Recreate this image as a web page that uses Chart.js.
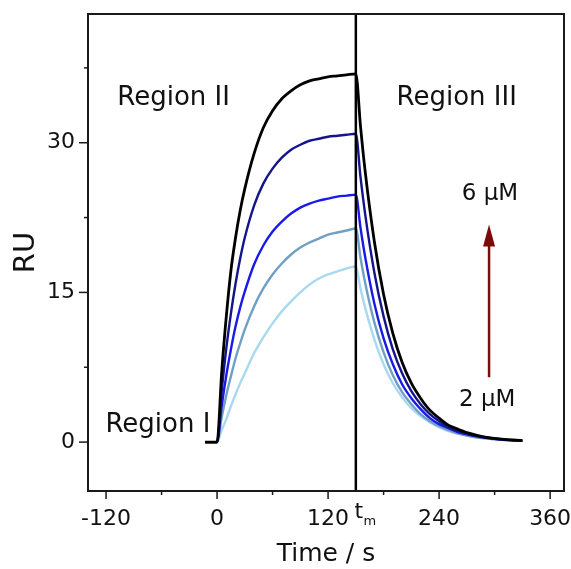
<!DOCTYPE html>
<html>
<head>
<meta charset="utf-8">
<script src="https://cdn.jsdelivr.net/npm/chart.js@4"></script>
<style>
    html, body { margin: 0; padding: 0; background: #fff; }
    #chartCanvas { display: block; }
</style>
</head>
<body>
<canvas id="chartCanvas" width="571" height="569"></canvas>
<script>
const times = [-13, -5, 0, 5, 10, 15, 20, 25, 30, 40, 50, 60, 70, 80, 90, 100, 110, 120, 130, 140, 150,
    155, 160, 170, 180, 190, 200, 210, 220, 230, 240, 250, 260, 270, 280, 290, 300, 310, 320, 330];

const ru6uM = [0, 0, 0, 7.0, 12.6, 17.2, 20.5, 23.2, 25.4, 28.9, 31.5, 33.2, 34.4, 35.2, 35.8, 36.2, 36.4, 36.6, 36.7, 36.8, 36.9,
    31.7, 27.2, 20.1, 14.8, 10.9, 8.0, 5.9, 4.4, 3.2, 2.4, 1.7, 1.3, 0.95, 0.7, 0.5, 0.38, 0.28, 0.21, 0.15];
const ru5uM = [0, 0, 0, 5.1, 9.4, 12.9, 15.9, 18.4, 20.5, 23.7, 25.9, 27.4, 28.5, 29.3, 29.8, 30.2, 30.4, 30.6, 30.7, 30.8, 30.9,
    26.6, 22.9, 17.0, 12.6, 9.3, 6.9, 5.1, 3.8, 2.8, 2.1, 1.5, 1.1, 0.84, 0.62, 0.46, 0.34, 0.25, 0.19, 0.14];
const ru4uM = [0, 0, 0, 3.6, 6.7, 9.3, 11.6, 13.5, 15.1, 17.8, 19.7, 21.1, 22.1, 22.9, 23.5, 23.9, 24.2, 24.4, 24.6, 24.7, 24.8,
    21.5, 18.6, 13.9, 10.4, 7.8, 5.8, 4.4, 3.3, 2.4, 1.8, 1.4, 1.0, 0.77, 0.57, 0.43, 0.32, 0.24, 0.18, 0.13];
const ru3uM = [0, 0, 0, 2.5, 4.7, 6.6, 8.4, 9.9, 11.3, 13.6, 15.4, 16.8, 17.9, 18.8, 19.5, 20.0, 20.4, 20.8, 21.0, 21.2, 21.4,
    18.5, 16.0, 12.0, 9.0, 6.7, 5.0, 3.8, 2.8, 2.1, 1.6, 1.2, 0.88, 0.66, 0.49, 0.37, 0.28, 0.21, 0.15, 0.12];
const ru2uM = [0, 0, 0, 1.2, 2.3, 3.6, 4.8, 5.9, 6.9, 8.9, 10.5, 11.9, 13.1, 14.1, 15.0, 15.8, 16.4, 16.8, 17.1, 17.4, 17.6,
    15.4, 13.5, 10.3, 7.8, 5.9, 4.5, 3.4, 2.6, 2.0, 1.5, 1.1, 0.85, 0.65, 0.5, 0.38, 0.29, 0.22, 0.17, 0.13];

const seriesNames = ["6 μM", "5 μM", "4 μM", "3 μM", "2 μM"];
const seriesValues = [ru6uM, ru5uM, ru4uM, ru3uM, ru2uM];
const seriesColors = ["#000000", "#14148c", "#1a1ae6", "#6fa0c4", "#a9d9f0"];

const xTickValues = [-120, -60, 0, 60, 120, 180, 240, 300, 360];
const yTickValues = [0, 7.5, 15, 22.5, 30, 37.5];
const tm = 150;

const fontFamily = "'DejaVu Sans', sans-serif";

// text placed in data units
const notes = [
    {text: "Region I", x: -64, y: 1.7, size: 26},
    {text: "Region II", x: -47, y: 34.5, size: 26},
    {text: "Region III", x: 259, y: 34.5, size: 26},
    {text: "6 μM", x: 295, y: 24.9, size: 23},
    {text: "2 μM", x: 292, y: 4.2, size: 23}
];
const arrow = {x: 294, from: 6.5, to: 21.8};

const noPad = scale => {
    scale.paddingLeft = 0;
    scale.paddingRight = 0;
    scale.paddingTop = 0;
    scale.paddingBottom = 0;
};

const decoPlugin = {
    id: "deco",
    afterDatasetsDraw(chart) {
        const {ctx, chartArea: a, scales: {x, y}} = chart;
        ctx.save();

        // tm line
        const xm = x.getPixelForValue(tm);
        ctx.strokeStyle = "#000";
        ctx.lineWidth = 2.5;
        ctx.beginPath();
        ctx.moveTo(xm, a.top);
        ctx.lineTo(xm, a.bottom);
        ctx.stroke();

        // frame
        ctx.lineWidth = 2;
        ctx.strokeStyle = "#1a1a1a";
        ctx.strokeRect(a.left, a.top, a.right - a.left, a.bottom - a.top);

        // ticks
        ctx.lineWidth = 1.5;
        xTickValues.forEach(v => {
            const px = x.getPixelForValue(v);
            const len = v % 120 === 0 ? 8 : 4;
            ctx.beginPath();
            ctx.moveTo(px, a.bottom);
            ctx.lineTo(px, a.bottom + len);
            ctx.stroke();
        });
        yTickValues.forEach(v => {
            const py = y.getPixelForValue(v);
            const len = v % 15 === 0 ? 9 : 4;
            ctx.beginPath();
            ctx.moveTo(a.left, py);
            ctx.lineTo(a.left - len, py);
            ctx.stroke();
        });

        // t_m label
        ctx.fillStyle = "#111";
        ctx.textBaseline = "middle";
        ctx.textAlign = "center";
        ctx.font = "22px " + fontFamily;
        ctx.fillText("t", xm + 3, a.bottom + 21);
        ctx.font = "13px " + fontFamily;
        ctx.fillText("m", xm + 14, a.bottom + 31);

        // region and concentration labels
        notes.forEach(n => {
            ctx.font = n.size + "px " + fontFamily;
            ctx.fillText(n.text, x.getPixelForValue(n.x), y.getPixelForValue(n.y));
        });

        // arrow
        const ax = x.getPixelForValue(arrow.x);
        const y0 = y.getPixelForValue(arrow.from);
        const y1 = y.getPixelForValue(arrow.to);
        ctx.strokeStyle = "#7d0a0a";
        ctx.fillStyle = "#7d0a0a";
        ctx.lineWidth = 2.5;
        ctx.beginPath();
        ctx.moveTo(ax, y0);
        ctx.lineTo(ax, y1 + 20);
        ctx.stroke();
        ctx.beginPath();
        ctx.moveTo(ax, y1);
        ctx.lineTo(ax - 6, y1 + 22);
        ctx.lineTo(ax + 6, y1 + 22);
        ctx.closePath();
        ctx.fill();

        ctx.restore();
    }
};

const datasets = seriesValues.map((vals, i) => ({
    label: seriesNames[i],
    data: times.map((t, j) => ({x: t, y: vals[j]})),
    borderColor: seriesColors[i],
    borderWidth: i === 0 ? 2.8 : 2.4,
    pointRadius: 0,
    cubicInterpolationMode: "monotone",
    fill: false
}));

new Chart(document.getElementById("chartCanvas"), {
    type: "line",
    data: {datasets},
    options: {
        responsive: false,
        animation: false,
        devicePixelRatio: 1,
        layout: {padding: {top: 14, right: 7, left: 0, bottom: 0}},
        plugins: {legend: {display: false}, tooltip: {enabled: false}},
        scales: {
            x: {
                type: "linear",
                min: -139.5,
                max: 375,
                afterBuildTicks: scale => { scale.ticks = xTickValues.map(v => ({value: v})); },
                afterFit: scale => { scale.height = 78; noPad(scale); },
                grid: {display: false, drawTicks: false},
                border: {display: false},
                ticks: {
                    autoSkip: false,
                    maxRotation: 0,
                    padding: 15,
                    color: "#111",
                    font: {family: fontFamily, size: 22},
                    callback: v => (v % 120 === 0 ? String(v) : "")
                },
                title: {
                    display: true,
                    text: "Time / s",
                    color: "#111",
                    font: {family: fontFamily, size: 25},
                    padding: {top: 0, bottom: 0}
                }
            },
            y: {
                min: -4.9,
                max: 42.9,
                afterBuildTicks: scale => { scale.ticks = yTickValues.map(v => ({value: v})); },
                afterFit: scale => { scale.width = 88; noPad(scale); },
                grid: {display: false, drawTicks: false},
                border: {display: false},
                ticks: {
                    autoSkip: false,
                    padding: 13,
                    color: "#111",
                    font: {family: fontFamily, size: 22},
                    callback: v => (v % 15 === 0 ? String(v) : "")
                },
                title: {
                    display: true,
                    text: "RU",
                    color: "#111",
                    font: {family: fontFamily, size: 29},
                    padding: {top: 9, bottom: 0}
                }
            }
        }
    },
    plugins: [decoPlugin]
});
</script>
</body>
</html>
